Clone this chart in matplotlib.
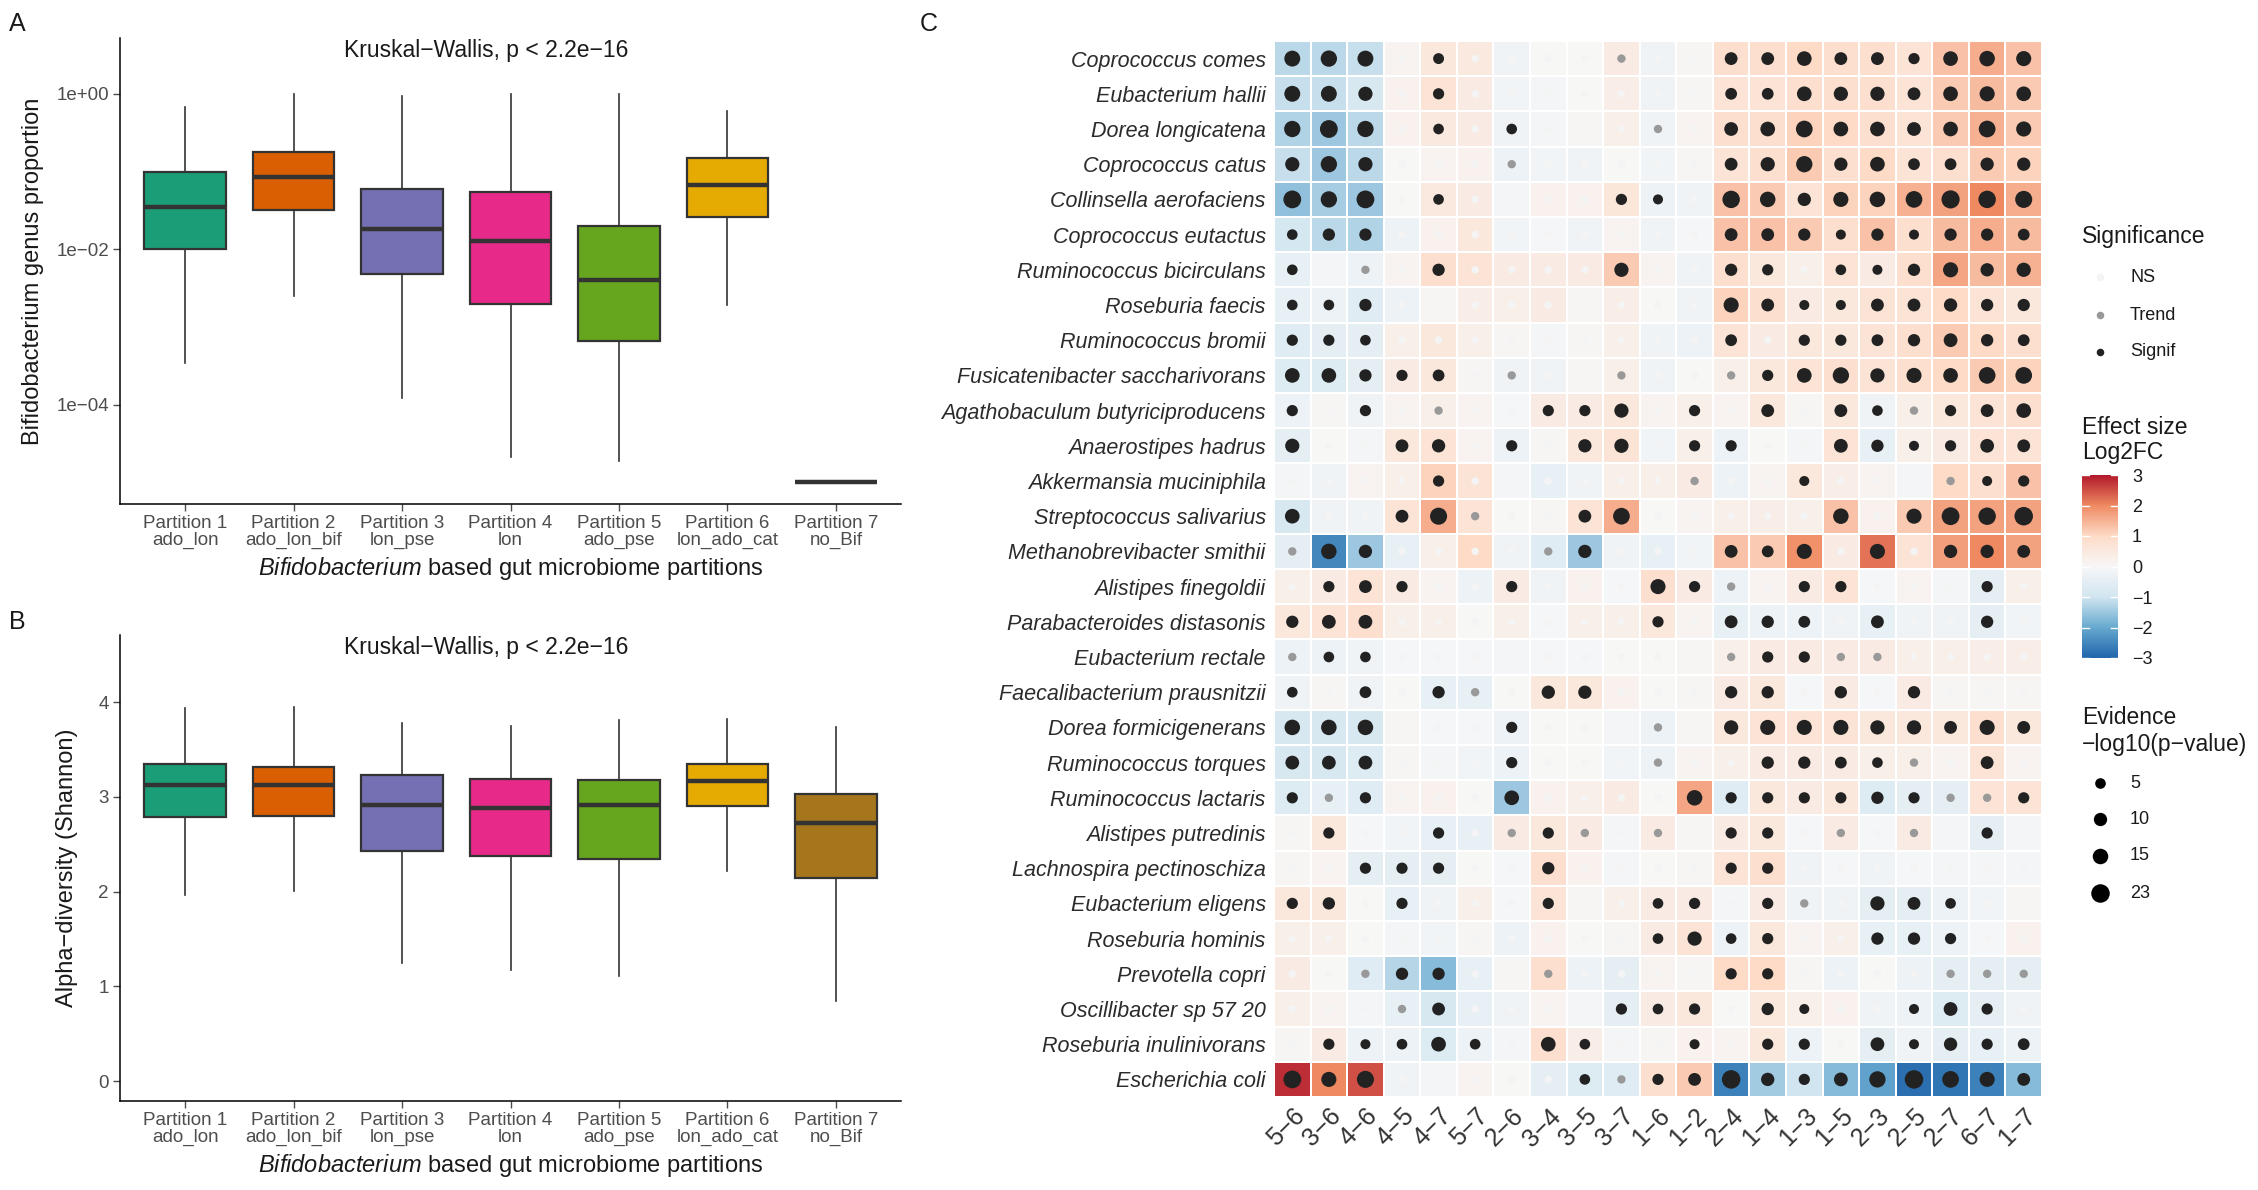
import numpy as np
import matplotlib
matplotlib.use("Agg")
import matplotlib.pyplot as plt
from matplotlib.colors import LinearSegmentedColormap, Normalize
from matplotlib.cm import ScalarMappable

W, H = 2258, 1190
plt.rcParams.update({
    "font.family": ["Liberation Sans", "DejaVu Sans"],
    "mathtext.fontset": "custom",
    "mathtext.rm": "Liberation Sans",
    "mathtext.it": "Liberation Sans:italic",
    "axes.linewidth": 1.1,
    "axes.unicode_minus": True,
})

INK = "#1A1A1A"
TICK = "#4D4D4D"
EDGE = "#333333"

# ---- panels A and B: boxplot summaries -------------------------------------
PARTITIONS = ["Partition 1\nado_lon", "Partition 2\nado_lon_bif", "Partition 3\nlon_pse",
              "Partition 4\nlon", "Partition 5\nado_pse", "Partition 6\nlon_ado_cat",
              "Partition 7\nno_Bif"]
BOX_COLORS = ["#1B9E77", "#D95F02", "#7570B3", "#E7298A", "#66A61E", "#E6AB02", "#A6761D"]

A_WHISLO = [3.4e-4, 2.5e-3, 1.2e-4, 2.1e-5, 1.9e-5, 1.9e-3, 1e-5]
A_Q1     = [0.010, 0.032, 0.0048, 0.0020, 6.6e-4, 0.026, 1e-5]
A_MED    = [0.035, 0.085, 0.018, 0.0126, 0.0040, 0.068, 1e-5]
A_Q3     = [0.098, 0.18, 0.059, 0.054, 0.020, 0.148, 1e-5]
A_WHISHI = [0.68, 1.0, 0.95, 1.0, 1.0, 0.60, 1e-5]

B_WHISLO = [1.97, 2.01, 1.25, 1.17, 1.11, 2.22, 0.85]
B_Q1     = [2.79, 2.80, 2.43, 2.38, 2.35, 2.90, 2.14]
B_MED    = [3.13, 3.13, 2.91, 2.88, 2.92, 3.17, 2.72]
B_Q3     = [3.35, 3.32, 3.23, 3.19, 3.18, 3.35, 3.03]
B_WHISHI = [3.94, 3.95, 3.78, 3.75, 3.81, 3.82, 3.74]

# ---- panel C: differential abundance ----------------------------------------
SPECIES = ["Coprococcus comes", "Eubacterium hallii", "Dorea longicatena", "Coprococcus catus",
           "Collinsella aerofaciens", "Coprococcus eutactus", "Ruminococcus bicirculans",
           "Roseburia faecis", "Ruminococcus bromii", "Fusicatenibacter saccharivorans",
           "Agathobaculum butyriciproducens", "Anaerostipes hadrus", "Akkermansia muciniphila",
           "Streptococcus salivarius", "Methanobrevibacter smithii", "Alistipes finegoldii",
           "Parabacteroides distasonis", "Eubacterium rectale", "Faecalibacterium prausnitzii",
           "Dorea formicigenerans", "Ruminococcus torques", "Ruminococcus lactaris",
           "Alistipes putredinis", "Lachnospira pectinoschiza", "Eubacterium eligens",
           "Roseburia hominis", "Prevotella copri", "Oscillibacter sp 57 20",
           "Roseburia inulinivorans", "Escherichia coli"]
CONTRASTS = ["5−6", "3−6", "4−6", "4−5", "4−7", "5−7", "2−6", "3−4", "3−5", "3−7", "1−6",
             "1−2", "2−4", "1−4", "1−3", "1−5", "2−3", "2−5", "2−7", "6−7", "1−7"]

LOG2FC = [
    [-1.2, -1.2, -1.1, 0.15, 0.55, 0.5, -0.2, 0.0, 0.0, 0.4, -0.2, 0.05, 0.85, 0.85, 1.0, 0.85, 0.85, 0.7, 1.3, 1.55, 1.3],
    [-1.1, -1.1, -0.8, 0.2, 0.7, 0.4, -0.15, -0.1, 0.0, 0.35, -0.2, 0.05, 0.7, 0.7, 0.85, 0.85, 0.85, 0.7, 1.2, 1.4, 1.2],
    [-1.3, -1.5, -1.2, 0.2, 0.5, 0.4, -0.2, -0.1, 0.05, 0.3, -0.2, 0.15, 0.85, 0.85, 1.1, 1.0, 0.85, 0.7, 1.2, 1.5, 1.2],
    [-1.1, -1.5, -1.2, 0.0, 0.15, 0.2, -0.3, -0.15, -0.2, 0.0, -0.15, 0.05, 0.7, 0.85, 1.2, 0.85, 1.0, 0.7, 0.85, 1.2, 1.1],
    [-1.6, -1.4, -1.5, 0.0, 0.5, 0.4, -0.1, 0.2, 0.2, 0.6, -0.3, -0.2, 1.3, 1.2, 0.7, 1.1, 1.1, 1.5, 1.7, 2.0, 1.55],
    [-0.9, -1.2, -1.3, -0.3, 0.2, 0.55, -0.15, -0.05, -0.2, 0.15, -0.2, -0.05, 1.3, 1.3, 1.2, 0.85, 1.3, 0.85, 1.4, 1.55, 1.4],
    [-0.4, -0.1, -0.3, 0.15, 0.85, 0.7, 0.4, 0.4, 0.4, 1.2, 0.15, -0.2, 0.85, 0.55, 0.3, 0.7, 0.4, 0.85, 1.65, 1.4, 1.5],
    [-0.4, -0.3, -0.6, -0.3, 0.05, 0.35, 0.3, 0.4, 0.05, 0.35, 0.0, -0.2, 1.1, 0.85, 0.4, 0.55, 0.7, 0.7, 1.0, 0.7, 0.55],
    [-0.6, -0.5, -0.5, 0.3, 0.55, 0.3, 0.05, -0.1, 0.05, 0.3, -0.2, -0.3, 0.7, 0.4, 0.55, 0.55, 0.7, 0.85, 1.2, 1.0, 0.85],
    [-0.7, -0.7, -0.5, 0.4, 0.55, 0.05, -0.2, -0.2, 0.05, 0.3, -0.2, 0.0, 0.3, 0.55, 0.7, 0.85, 0.7, 0.85, 1.0, 1.2, 1.1],
    [-0.3, 0.05, -0.2, 0.15, 0.3, 0.15, -0.05, 0.4, 0.4, 0.55, 0.15, 0.3, 0.15, 0.55, 0.05, 0.55, -0.2, 0.3, 0.55, 0.7, 0.85],
    [-0.5, 0.0, -0.1, 0.55, 0.7, 0.15, -0.3, 0.05, 0.55, 0.7, -0.15, 0.3, -0.3, 0.0, -0.1, 0.7, -0.4, 0.3, 0.4, 0.7, 0.7],
    [-0.1, -0.2, 0.15, 0.3, 1.1, 0.7, -0.1, -0.4, -0.2, 0.3, 0.3, 0.4, -0.3, 0.15, 0.55, 0.35, 0.15, -0.1, 1.0, 0.85, 1.3],
    [-0.8, -0.2, -0.2, 0.7, 1.55, 0.7, 0.0, 0.05, 0.7, 1.55, 0.0, 0.15, 0.3, 0.35, 0.3, 1.3, 0.2, 1.2, 1.7, 1.7, 1.7],
    [-0.5, -2.5, -1.5, -0.4, 0.3, 1.0, -0.2, -0.6, -1.5, -0.2, -0.4, -0.15, 1.3, 1.2, 1.9, 0.4, 2.2, 0.7, 1.75, 2.0, 1.7],
    [0.3, 0.4, 0.7, 0.4, 0.15, -0.3, 0.4, -0.2, 0.2, -0.05, 0.85, 0.4, -0.3, 0.15, 0.4, 0.7, -0.05, 0.15, -0.1, -0.5, 0.3],
    [0.55, 0.7, 0.85, 0.3, 0.3, 0.0, 0.3, -0.05, 0.3, 0.3, 0.55, 0.15, -0.4, -0.3, -0.3, -0.2, -0.4, -0.2, -0.2, -0.5, -0.15],
    [-0.3, -0.3, -0.2, -0.05, -0.05, -0.05, -0.1, -0.05, -0.05, 0.0, 0.0, 0.05, 0.3, 0.4, 0.4, 0.4, 0.4, 0.3, 0.3, 0.35, 0.35],
    [-0.2, 0.05, -0.2, 0.0, -0.4, -0.4, 0.0, 0.55, 0.55, 0.2, 0.0, 0.05, 0.4, 0.55, -0.05, 0.4, -0.05, 0.4, 0.05, 0.05, 0.05],
    [-0.8, -0.8, -0.8, 0.05, -0.05, -0.05, -0.3, 0.0, 0.0, -0.1, -0.3, 0.05, 0.55, 0.7, 0.7, 0.7, 0.55, 0.55, 0.55, 0.85, 0.55],
    [-0.8, -0.8, -0.7, 0.05, -0.1, -0.15, -0.3, 0.0, 0.0, -0.15, -0.3, 0.15, 0.3, 0.4, 0.4, 0.4, 0.3, 0.3, 0.15, 0.7, 0.15],
    [-0.7, -0.4, -0.6, 0.15, 0.2, 0.0, -1.5, 0.2, 0.3, 0.4, 0.0, 1.65, -0.6, 0.55, 0.4, 0.55, -0.7, -0.5, -0.5, 0.7, 0.7],
    [0.05, 0.55, -0.05, -0.15, -0.4, -0.4, 0.4, 0.55, 0.4, -0.1, 0.4, 0.05, 0.4, 0.55, -0.05, 0.4, -0.05, 0.4, -0.1, -0.5, -0.1],
    [0.05, 0.15, -0.5, -0.5, -0.5, 0.0, -0.05, 0.85, 0.2, -0.1, 0.0, 0.05, 0.7, 0.85, -0.2, -0.05, -0.2, -0.05, -0.1, -0.1, -0.1],
    [0.55, 0.55, 0.0, -0.4, -0.2, 0.3, -0.05, 0.7, 0.05, 0.3, 0.4, 0.4, -0.1, 0.4, -0.2, -0.2, -0.5, -0.5, -0.3, -0.15, 0.05],
    [0.3, 0.3, 0.0, -0.1, -0.15, 0.05, -0.3, 0.2, 0.0, 0.05, 0.4, 0.7, -0.3, 0.55, 0.15, 0.3, -0.4, -0.4, -0.3, -0.05, 0.2],
    [0.4, 0.0, -0.6, -1.25, -1.7, -0.4, 0.05, 0.85, -0.3, -0.5, 0.15, 0.05, 1.0, 1.0, 0.05, -0.3, 0.0, -0.3, -0.5, -0.5, -0.5],
    [0.3, 0.15, -0.1, -0.4, -0.8, -0.4, -0.2, 0.15, -0.1, -0.5, 0.4, 0.55, 0.0, 0.55, 0.3, 0.2, -0.2, -0.3, -0.7, -0.5, -0.2],
    [0.05, 0.4, -0.3, -0.3, -0.7, -0.3, -0.1, 0.85, 0.35, -0.1, 0.05, 0.2, 0.15, 0.55, -0.3, 0.0, -0.5, -0.2, -0.5, -0.4, -0.3],
    [2.8, 2.0, 2.5, -0.2, -0.1, 0.15, 0.0, -0.5, -0.7, -0.6, 0.85, 1.2, -2.6, -1.45, -1.0, -1.7, -2.1, -2.85, -2.75, -2.6, -1.7],
]

# -log10(p-value)
EVIDENCE = [
    [16, 17, 16, 0.6, 5.5, 0.6, 0.6, 0.6, 0.6, 1.6, 0.6, 0.6, 9, 9, 13, 9, 9, 6, 13, 15, 14],
    [16, 16, 12, 0.6, 6, 0.6, 0.6, 0.6, 0.6, 0.6, 0.6, 0.6, 7, 7, 13, 12, 12, 9, 13, 14, 13],
    [17, 21, 17, 0.6, 5, 0.6, 5, 0.6, 0.6, 0.6, 1.6, 0.6, 11, 13, 18, 13, 13, 11, 13, 18, 14],
    [12, 17, 12, 0.6, 0.6, 0.6, 1.6, 0.6, 0.6, 0.6, 0.6, 0.6, 9, 12, 17, 10, 13, 7, 7, 10, 10],
    [21, 17, 21, 0.6, 5, 0.6, 0.6, 0.6, 0.6, 6, 4, 0.6, 20, 15, 10, 14, 15, 18, 22, 20, 19],
    [5, 8, 8, 0.6, 0.6, 0.6, 0.6, 0.6, 0.6, 0.6, 0.6, 0.6, 9, 9, 8, 4, 8, 4, 8, 8, 7],
    [5, 0.6, 1.6, 0.6, 8, 0.6, 0.6, 0.6, 0.6, 12, 0.6, 0.6, 8, 6, 0.6, 5, 4, 8, 14, 10, 12],
    [5, 5, 8, 0.6, 0.6, 0.6, 0.6, 0.6, 0.6, 0.6, 0.6, 0.6, 14, 9, 4, 4, 9, 9, 10, 8, 8],
    [6, 6, 5, 0.6, 0.6, 0.6, 0.6, 0.6, 0.6, 0.6, 0.6, 0.6, 7, 0.6, 6, 6, 7, 8, 11, 8, 7],
    [13, 13, 8, 6, 7, 0.6, 1.6, 0.6, 0.6, 1.6, 0.6, 0.6, 1.6, 6, 13, 17, 12, 14, 13, 18, 18],
    [6, 0.6, 6, 0.6, 1.6, 0.6, 0.6, 6, 6, 12, 0.6, 6, 0.6, 9, 0.6, 9, 5, 1.6, 6, 9, 13],
    [12, 0.6, 0.6, 9, 10, 0.6, 6, 0.6, 10, 12, 0.6, 6, 6, 0.6, 0.6, 11, 8, 4, 6, 11, 9],
    [0.6, 0.6, 0.6, 0.6, 6, 0.6, 0.6, 0.6, 0.6, 0.6, 0.6, 1.6, 0.6, 0.6, 4, 0.6, 0.6, 0.6, 1.6, 4, 6],
    [13, 0.6, 0.6, 9, 19, 1.6, 0.6, 0.6, 9, 18, 0.6, 0.6, 0.6, 0.6, 0.6, 15, 0.6, 14, 21, 20, 23],
    [1.6, 15, 10, 0.6, 0.6, 0.6, 0.6, 1.6, 10, 0.6, 0.6, 0.6, 9, 7, 14, 0.6, 14, 0.6, 10, 10, 9],
    [0.6, 6, 9, 6, 0.6, 0.6, 6, 0.6, 0.6, 0.6, 14, 6, 1.6, 0.6, 6, 6, 0.6, 0.6, 0.6, 6, 0.6],
    [8, 11, 11, 0.6, 0.6, 0.6, 0.6, 0.6, 0.6, 0.6, 6, 0.6, 9, 8, 7, 0.6, 9, 0.6, 0.6, 8, 0.6],
    [1.6, 5, 5, 0.6, 0.6, 0.6, 0.6, 0.6, 0.6, 0.6, 0.6, 0.6, 1.6, 6, 6, 1.6, 1.6, 0.6, 0.6, 0.6, 0.6],
    [5, 0.6, 7, 0.6, 8, 1.6, 0.6, 10, 10, 0.6, 0.6, 0.6, 8, 8, 0.6, 8, 0.6, 8, 0.6, 0.6, 0.6],
    [15, 15, 15, 0.6, 0.6, 0.6, 6, 0.6, 0.6, 0.6, 1.6, 0.6, 12, 14, 14, 14, 12, 12, 9, 14, 9],
    [11, 11, 11, 0.6, 0.6, 0.6, 6, 0.6, 0.6, 0.6, 1.6, 0.6, 0.6, 8, 8, 7, 5, 1.6, 0.6, 9, 0.6],
    [6, 1.6, 6, 0.6, 0.6, 0.6, 13, 0.6, 0.6, 0.6, 0.6, 15, 6, 6, 6, 6, 8, 6, 1.6, 1.6, 6],
    [0.6, 6, 0.6, 0.6, 6, 0.6, 1.6, 6, 1.6, 0.6, 1.6, 0.6, 6, 6, 0.6, 1.6, 0.6, 1.6, 0.6, 6, 0.6],
    [0.6, 0.6, 6, 6, 6, 0.6, 0.6, 8, 0.6, 0.6, 0.6, 0.6, 6, 6, 0.6, 0.6, 0.6, 0.6, 0.6, 0.6, 0.6],
    [6, 8, 0.6, 6, 0.6, 0.6, 0.6, 6, 0.6, 0.6, 5, 6, 0.6, 6, 1.6, 0.6, 12, 9, 5, 0.6, 0.6],
    [0.6, 0.6, 0.6, 0.6, 0.6, 0.6, 0.6, 0.6, 0.6, 0.6, 5, 12, 5, 6, 0.6, 0.6, 8, 8, 6, 0.6, 0.6],
    [0.6, 0.6, 1.6, 8, 8, 0.6, 0.6, 1.6, 0.6, 0.6, 0.6, 0.6, 6, 6, 0.6, 0.6, 0.6, 0.6, 1.6, 1.6, 1.6],
    [0.6, 0.6, 0.6, 1.6, 9, 0.6, 0.6, 0.6, 0.6, 6, 5, 6, 0.6, 8, 4, 0.6, 0.6, 4, 11, 6, 0.6],
    [0.6, 6, 4, 5, 13, 5, 0.6, 13, 5, 0.6, 0.6, 4, 0.6, 6, 6, 0.6, 11, 4, 10, 6, 7],
    [21, 14, 19, 0.6, 0.6, 0.6, 0.6, 0.6, 5, 1.6, 6, 9, 23, 10, 6, 11, 17, 23, 18, 14, 9],
]

SIG_LEVELS = ["NS", "Trend", "Signif"]
SIG_COLORS = {"NS": "#F4F4F4", "Trend": "#999999", "Signif": "#222222"}
SIZE_BREAKS = [5, 10, 15, 23]
FC_TICKS = [3, 2, 1, 0, -1, -2, -3]

RDBU = LinearSegmentedColormap.from_list(
    "rdbu", ["#2166AC", "#67A9CF", "#D1E5F0", "#F7F7F7", "#FDDBC7", "#EF8A62", "#B2182B"])
NORM = Normalize(-3, 3)


def dot_area(ev):
    return 29 + 6.6 * (np.asarray(ev, dtype=float) - 0.5)


def sig_of(ev):
    return np.where(ev < 1.3, "NS", np.where(ev < 2, "Trend", "Signif"))


fig = plt.figure(figsize=(W / 100, H / 100), dpi=100)


def px_axes(l, t, r, b):
    return fig.add_axes([l / W, 1 - b / H, (r - l) / W, (b - t) / H])


def boxpanel(ax, lo, q1, med, q3, hi):
    stats = [dict(whislo=a, q1=b, med=c, q3=d, whishi=e, fliers=[])
             for a, b, c, d, e in zip(lo, q1, med, q3, hi)]
    pos = np.arange(1, len(stats) + 1)
    bp = ax.bxp(stats, positions=pos, widths=0.75, patch_artist=True, showcaps=False,
                boxprops=dict(edgecolor=EDGE, linewidth=1.6),
                medianprops=dict(color=EDGE, linewidth=3.2, solid_capstyle="butt"),
                whiskerprops=dict(color=EDGE, linewidth=1.2))
    for patch, col in zip(bp["boxes"], BOX_COLORS):
        patch.set_facecolor(col)
    ax.set_xlim(0.4, 7.6)
    ax.set_xticks(pos)
    ax.set_xticklabels(PARTITIONS, fontsize=13.5, color=TICK, linespacing=1.0)
    for s in ("top", "right"):
        ax.spines[s].set_visible(False)
    ax.tick_params(length=5, width=1.0, color=TICK, labelsize=13.5, labelcolor=TICK, pad=3)
    ax.text(3.78, 0.974, "Kruskal−Wallis, p < 2.2e−16", transform=ax.get_xaxis_transform(),
            ha="center", va="center", fontsize=16.5, color=INK)
    ax.set_xlabel("$\\it{Bifidobacterium}$ based gut microbiome partitions",
                  fontsize=17, color=INK, labelpad=4)


# panel A
axA = px_axes(120, 38, 901, 504)
axA.set_yscale("log")
boxpanel(axA, A_WHISLO, A_Q1, A_MED, A_Q3, A_WHISHI)
axA.set_ylim(10 ** -5.28, 10 ** 0.72)
axA.set_yticks([1, 1e-2, 1e-4])
axA.set_yticklabels(["1e+00", "1e−02", "1e−04"])
axA.minorticks_off()
axA.set_ylabel("Bifidobacterium genus proportion", fontsize=17, color=INK, labelpad=9)

# panel B
axB = px_axes(120, 635, 901, 1101)
boxpanel(axB, B_WHISLO, B_Q1, B_MED, B_Q3, B_WHISHI)
axB.set_ylim(-0.21, 4.71)
axB.set_yticks([0, 1, 2, 3, 4])
axB.set_ylabel("Alpha−diversity (Shannon)", fontsize=17, color=INK, labelpad=15)

# panel C heatmap
axC = px_axes(1274, 41, 2042, 1097)
fc = np.array(LOG2FC)
ev = np.array(EVIDENCE, dtype=float)
nr, nc = fc.shape
axC.pcolormesh(np.arange(nc + 1), np.arange(nr + 1), fc, cmap=RDBU, norm=NORM,
               edgecolors="white", linewidth=1.3)
xx, yy = np.meshgrid(np.arange(nc) + 0.5, np.arange(nr) + 0.5)
sig = sig_of(ev)
for lvl in SIG_LEVELS:
    m = sig == lvl
    axC.scatter(xx[m], yy[m], s=dot_area(ev[m]), color=SIG_COLORS[lvl], linewidths=0, zorder=3)
axC.set_xlim(0, nc)
axC.set_ylim(nr, 0)
for s in axC.spines.values():
    s.set_visible(False)
axC.set_yticks(np.arange(nr) + 0.5)
axC.set_yticklabels(SPECIES, fontsize=15.5, style="italic", color="#2B2B2B")
axC.set_xticks(np.arange(nc) + 0.5)
axC.set_xticklabels(CONTRASTS, fontsize=18, color="#333333", rotation=45,
                    ha="right", va="top", rotation_mode="anchor")
axC.tick_params(axis="y", length=0, pad=6)
axC.tick_params(axis="x", length=0, pad=5)

# panel letters
for x, y, lab in [(17, 24, "A"), (17, 622, "B"), (929, 24, "C")]:
    fig.text(x / W, 1 - y / H, lab, fontsize=18, ha="center", va="center", color=INK)

# legends (pixel-coordinate overlay)
lax = fig.add_axes([0, 0, 1, 1])
lax.set_xlim(0, W)
lax.set_ylim(H, 0)
lax.axis("off")
lx, dx, tx = 2082, 2100, 2130
lax.text(lx, 236, "Significance", fontsize=16.5, va="center", color=INK)
for lvl, y in zip(SIG_LEVELS, [277, 315, 352]):
    lax.scatter([dx], [y], s=dot_area(0.6), color=SIG_COLORS[lvl], linewidths=0)
    lax.text(tx, y, lvl, fontsize=13, va="center", color=INK)

lax.text(lx, 428, "Effect size", fontsize=16.5, va="center", color=INK)
lax.text(lx, 453, "Log2FC", fontsize=16.5, va="center", color=INK)
cax = px_axes(2082, 475, 2118, 658)
cb = fig.colorbar(ScalarMappable(norm=NORM, cmap=RDBU), cax=cax, ticks=FC_TICKS)
cb.outline.set_visible(False)
cb.ax.set_yticklabels([f"{t}".replace("-", "−") for t in FC_TICKS])
cb.ax.tick_params(length=0, labelsize=13, pad=10, labelcolor=INK)
for t in FC_TICKS:
    cax.plot([0, 0.2], [t, t], color="white", lw=1.0)
    cax.plot([0.8, 1], [t, t], color="white", lw=1.0)

lax.text(lx, 717, "Evidence", fontsize=16.5, va="center", color=INK)
lax.text(lx, 745, "−log10(p−value)", fontsize=16.5, va="center", color=INK)
for b, y in zip(SIZE_BREAKS, [783, 819, 856, 893]):
    lax.scatter([dx], [y], s=dot_area(b), color="black", linewidths=0)
    lax.text(tx, y, str(b), fontsize=13, va="center", color=INK)

fig.savefig("out.png", dpi=100, facecolor="white")
